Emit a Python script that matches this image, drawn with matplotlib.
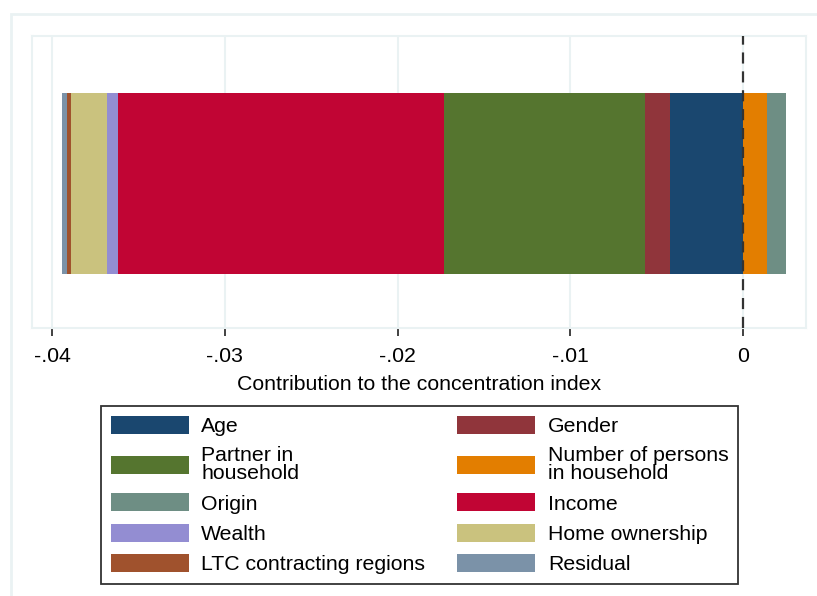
import matplotlib.pyplot as plt
from matplotlib.patches import Rectangle, Patch
from matplotlib.ticker import FuncFormatter

plt.rcParams['font.family'] = ['Liberation Sans', 'DejaVu Sans']

# contributions to the concentration index, in stacking order
factors = ['Age', 'Gender', 'Partner in\nhousehold', 'Income', 'Wealth',
           'Home ownership', 'LTC contracting regions', 'Residual',
           'Number of persons\nin household', 'Origin']
contrib = [-0.00423, -0.00141, -0.01168, -0.01889, -0.00060,
           -0.00212, -0.00021, -0.00029, 0.00143, 0.00108]
colors = ['#1a476f', '#90353b', '#55752f', '#c10534', '#938dd2',
          '#cac27e', '#a0522d', '#7b92a8', '#e37e00', '#6e8e84']

# legend order (two columns, filled top to bottom)
legend_order = ['Age', 'Partner in\nhousehold', 'Origin', 'Wealth',
                'LTC contracting regions', 'Gender',
                'Number of persons\nin household', 'Income',
                'Home ownership', 'Residual']

xticks = [-0.04, -0.03, -0.02, -0.01, 0]

FS = 15.3
W, H = 817, 596
fig = plt.figure(figsize=(W / 100, H / 100), dpi=100)
fig.patch.set_facecolor('white')

# outer graph region border (runs off the right and bottom edges)
fig.patches.append(Rectangle((11 / W, -0.1), 1.1, 1.1 - 14 / H, transform=fig.transFigure,
                             fill=False, edgecolor='#eaf2f3', lw=2, clip_on=True))

ax = fig.add_axes([32 / W, 1 - 328 / H, (806 - 32) / W, (328 - 36) / H])

neg_left = 0.0
pos_left = 0.0
for name, val, col in zip(factors, contrib, colors):
    if val < 0:
        ax.barh(0.495, val, left=neg_left, height=0.62, color=col, edgecolor='none', zorder=3)
        neg_left += val
    else:
        ax.barh(0.495, val, left=pos_left, height=0.62, color=col, edgecolor='none', zorder=3)
        pos_left += val

ax.axvline(0, color='#333333', lw=1.6, ls=(0, (5, 3.5)), zorder=4, clip_on=False)

ax.set_xlim(-0.04117, 0.00366)
ax.set_ylim(0, 1)
ax.set_yticks([])
ax.set_xticks(xticks)


def fmt(v, pos):
    if abs(v) < 1e-12:
        return '0'
    s = '%.2f' % v
    return s.replace('0.', '.')


ax.xaxis.set_major_formatter(FuncFormatter(fmt))
ax.tick_params(axis='x', length=6, width=1.3, color='#333333', labelsize=FS, pad=8)
ax.grid(axis='x', color='#eaf2f3', lw=1.5, zorder=0)
for sp in ax.spines.values():
    sp.set_color('#eaf2f3')
    sp.set_linewidth(1.5)
ax.set_xlabel('Contribution to the concentration index', fontsize=FS, labelpad=6)

lookup = dict(zip(factors, colors))
handles = [Patch(facecolor=lookup[n], edgecolor='none', label=n) for n in legend_order]
leg = fig.legend(handles=handles, ncol=2, loc='upper left',
                 bbox_to_anchor=(101 / W, 1 - 406 / H), fontsize=FS,
                 frameon=True, fancybox=False, handlelength=3.67, handleheight=0.94,
                 handletextpad=0.6, columnspacing=1.5, labelspacing=0.47,
                 borderpad=0.45, borderaxespad=0)
leg.get_frame().set_edgecolor('black')
leg.get_frame().set_linewidth(1.3)
for t in leg.get_texts():
    t.set_linespacing(0.95)

fig.savefig('out.png', dpi=100)
